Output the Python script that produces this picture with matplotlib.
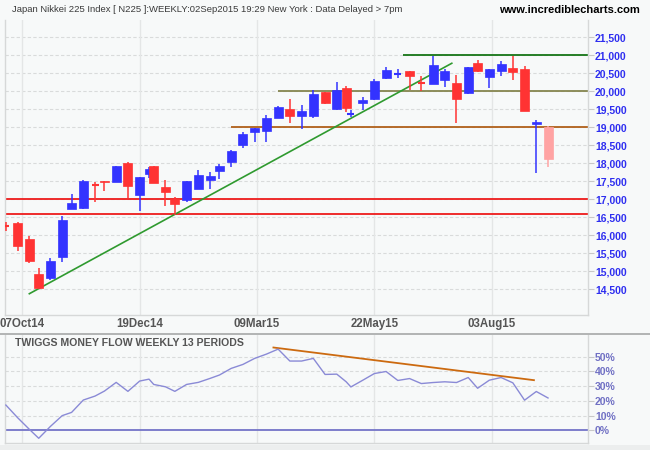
import numpy as np
import pandas as pd
import matplotlib
matplotlib.use("Agg")
import matplotlib.pyplot as plt
from matplotlib.patches import Rectangle
from matplotlib.lines import Line2D

# ---------------- data ----------------
jp_holidays = ['2014-09-23', '2014-10-13', '2014-11-03', '2014-11-24', '2014-12-23',
               '2014-12-31', '2015-01-01', '2015-01-02', '2015-01-12', '2015-02-11',
               '2015-04-29', '2015-05-04', '2015-05-05', '2015-05-06', '2015-07-20']
week_ending = pd.date_range('2014-09-26', '2015-09-04', freq='W-FRI')

opens = [16265, 16350, 15897, 14925, 14822, 15397, 16739, 16758, 17400, 17510,
         17489, 18000, 17128, 17711, 17925, 17342, 17000, 16981, 17295, 17536,
         17786, 18036, 18508, 18869, 18897, 19258, 19508, 19322, 19322, 19989,
         19508, 20100, 19370, 19667, 19786, 20361, 20470, 20564, 20240, 20211,
         20314, 20231, 19961, 20786, 20397, 20564, 20647, 20620, 19100, 19000]
highs = [16370, 16360, 15980, 15091, 15369, 16536, 17147, 17536, 17472, 17510,
         17935, 18028, 17619, 17889, 17925, 17536, 17064, 17520, 17814, 17758,
         17981, 18370, 18869, 18989, 19342, 19592, 19786, 19620, 20036, 19989,
         20258, 20155, 19480, 19833, 20342, 20675, 20620, 20564, 20425, 20990,
         20620, 20453, 20675, 20869, 20620, 20842, 20989, 20703, 19203, 19028]
lows = [16110, 15572, 15239, 14540, 14758, 15258, 16739, 16740, 16933, 17240,
        17480, 17044, 16675, 17592, 17453, 16814, 16572, 16933, 17295, 17295,
        17564, 17897, 18425, 18592, 18592, 19250, 19128, 18953, 19267, 19647,
        19490, 19433, 19285, 19481, 19758, 20342, 20370, 20036, 20008, 20211,
        20119, 19120, 19933, 20545, 20092, 20425, 20314, 19453, 17739, 17906]
closes = [16255, 15711, 15294, 14544, 15286, 16425, 16905, 17508, 17390, 17480,
          17925, 17378, 17619, 17842, 17453, 17203, 16869, 17508, 17675, 17647,
          17925, 18342, 18814, 18989, 19258, 19564, 19322, 19453, 19925, 19683,
          20036, 19545, 19385, 19758, 20286, 20592, 20481, 20430, 20220, 20731,
          20564, 19786, 20675, 20564, 20620, 20758, 20536, 19453, 19136, 18128]
partial_week = [False] * 49 + [True]

money_flow = [17.2, 8.6, 0.7, -5.4, 2.7, 10.0, 12.2, 20.6, 23.3, 26.7,
              32.6, 26.5, 33.5, 34.8, 31.2, 29.6, 26.5, 31.2, 32.6, 35.3,
              37.6, 42.1, 44.8, 48.9, 51.8, 55.2, 47.1, 47.1, 48.9, 38.0,
              38.2, 33.0, 29.5, 34.0, 38.6, 40.0, 33.9, 35.2, 31.8, 32.5,
              33.0, 32.5, 35.9, 28.6, 34.1, 35.9, 32.3, 20.5, 26.4, 22.0]

axis_origin = '2014-10-07'
label_dates = ['2014-10-07', '2014-12-19', '2015-03-09', '2015-05-22', '2015-08-03']
label_texts = ['07Oct14', '19Dec14', '09Mar15', '22May15', '03Aug15']

price_ticks = [14500, 15000, 15500, 16000, 16500, 17000, 17500, 18000,
               18500, 19000, 19500, 20000, 20500, 21000, 21500]
mf_ticks = [0, 10, 20, 30, 40, 50]

level_values = [21000, 20000, 19000, 17000, 16580]
level_starts = ['2015-06-09', '2015-03-20', '2015-02-20', None, None]
level_colors = ['#167516', '#85854F', '#B0601A', '#EE1B1B', '#EE1B1B']

trend_dates = ['2014-10-10', '2015-07-08']
trend_values = [14377, 20778]
mf_trend_dates = ['2015-03-18', '2015-08-27']
mf_trend_values = [56.3, 34.1]

title_text = "Japan Nikkei 225 Index [ N225 ]:WEEKLY:02Sep2015 19:29 New York : Data Delayed > 7pm"
site_text = "www.incrediblecharts.com"
mf_title = "TWIGGS MONEY FLOW WEEKLY 13 PERIODS"


# ---------------- helpers ----------------
def tday(dates):
    d = np.array(dates, dtype='datetime64[D]')
    d = np.busday_offset(d, 0, roll='backward', holidays=jp_holidays)
    return np.busday_count(np.datetime64(axis_origin), d, holidays=jp_holidays)


x = tday(week_ending.values.astype('datetime64[D]'))
tick_x = tday(label_dates)

W, H = 650, 450
PX_PER_DAY = 2.347
X0_PX = 22.3
PLOT_L, PLOT_R = 5, 588
xlim = ((PLOT_L - X0_PX) / PX_PER_DAY, (PLOT_R - X0_PX) / PX_PER_DAY)

BG = '#F7F9F9'
fig = plt.figure(figsize=(W / 100, H / 100), dpi=100, facecolor=BG)


def fax(l, t, r, b):
    return fig.add_axes([l / W, 1 - b / H, (r - l) / W, (b - t) / H])


ax = fax(PLOT_L, 20, PLOT_R, 315)
ax2 = fax(PLOT_L, 335, PLOT_R, 443)

for a in (ax, ax2):
    a.set_facecolor(BG)
    a.set_xlim(*xlim)
    for s in ('left', 'right', 'bottom'):
        a.spines[s].set_color('#D6D8D8')
        a.spines[s].set_linewidth(1)
    a.spines['top'].set_visible(False)
    a.set_xticks(tick_x)
    a.grid(axis='x', color='#E4E6E6', lw=1, ls='-')
    a.set_axisbelow(True)
    a.yaxis.tick_right()
    a.tick_params(axis='y', which='both', length=4, width=0.8, color='#C8C8C8', pad=1)
    a.tick_params(axis='x', length=0)

# ---- upper price panel ----
ax.set_ylim(13786, 21980)
ax.set_yticks(price_ticks)
ax.set_yticklabels([f"{v:,}" for v in price_ticks], fontsize=7.5,
                   fontweight='bold', color='#2E2EF0', family=['Liberation Sans', 'DejaVu Sans'])
for v in price_ticks:
    ax.axhline(v, color='#D9DBDB', lw=0.8, ls=(0, (3, 2)), zorder=0)
ax.set_xticklabels(label_texts, fontsize=8.3, fontweight='bold', color='#555555',
                   family=['Liberation Sans', 'DejaVu Sans'])
ax.tick_params(axis='x', pad=2)

for lv, ls_, lc in zip(level_values, level_starts, level_colors):
    xs = xlim[0] if ls_ is None else tday([ls_])[0]
    ax.plot([xs, xlim[1]], [lv, lv], color=lc, lw=1.3, zorder=1,
            solid_capstyle='butt')

tx = tday(trend_dates)
ax.plot(tx, trend_values, color='#2F9A2F', lw=1.2, zorder=2)

BODY_W = 9 / PX_PER_DAY
CROSS_W = 7 / PX_PER_DAY
for xi, o, h, l, c, pw in zip(x, opens, highs, lows, closes, partial_week):
    if pw:
        col = '#FFA3A3'
    elif c > o:
        col = '#3333FF'
    else:
        col = '#FF3333'
    ax.vlines(xi, l, h, color=col, lw=1.1, zorder=3)
    if abs(c - o) < 25:
        ax.hlines((o + c) / 2, xi - CROSS_W / 2, xi + CROSS_W / 2, color=col, lw=1.5, zorder=4)
    else:
        ax.add_patch(Rectangle((xi - BODY_W / 2, min(o, c)), BODY_W, abs(c - o),
                               facecolor=col, edgecolor=col, lw=0.5, zorder=4))

# ---- lower money flow panel ----
ax2.set_ylim(-8.6, 64.8)
ax2.set_yticks(mf_ticks)
ax2.set_yticklabels([f"{v}%" for v in mf_ticks], fontsize=7.5, fontweight='bold',
                    color='#7070C4', family=['Liberation Sans', 'DejaVu Sans'])
ax2.set_xticklabels([])
for v in mf_ticks[1:]:
    ax2.axhline(v, color='#D9DBDB', lw=0.8, ls=(0, (3, 2)), zorder=0)
ax2.axhline(0, color='#7474C8', lw=1.3, zorder=1)
ax2.plot(x, money_flow, color='#8A8AD6', lw=1.0, zorder=3)
ax2.plot(tday(mf_trend_dates), mf_trend_values, color='#CC6A10', lw=1.3, zorder=2)
fig.text(15 / W, 1 - 343 / H, mf_title, fontsize=7.6, fontweight='bold', color='#555555',
         va='center', ha='left', family=['Liberation Sans', 'DejaVu Sans'])

# ---- figure decorations ----
fig.add_artist(Line2D([0, 1], [1 - 334 / H, 1 - 334 / H], color='#A6A8A8', lw=1.2))
fig.add_artist(Rectangle((0, 0), 1, 5 / H, facecolor='#ECEEEE', edgecolor='none'))
fig.text(12 / W, 1 - 10 / H, title_text, fontsize=6.8, color='#3A3A3A', va='center',
         ha='left', family=['Liberation Sans', 'DejaVu Sans'])
fig.text(640 / W, 1 - 10 / H, site_text, fontsize=8, color='#000000', va='center',
         ha='right', fontweight='bold', family=['Liberation Sans', 'DejaVu Sans'])

fig.savefig('out.png', dpi=100, facecolor=BG)
